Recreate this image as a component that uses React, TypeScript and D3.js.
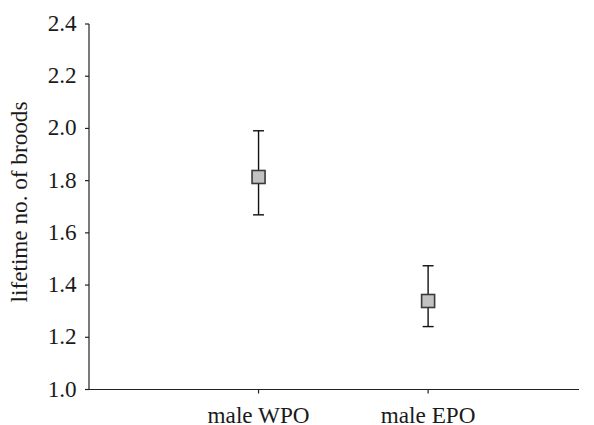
import React from 'react';
import * as d3 from 'd3';

// groups along the x axis
const categories = ['male WPO', 'male EPO'];
// mean lifetime number of broods, with error bar ends
const means = [1.814, 1.339];
const lowers = [1.669, 1.241];
const uppers = [1.991, 1.474];
const yTicks = [1.0, 1.2, 1.4, 1.6, 1.8, 2.0, 2.2, 2.4];

const W = 594;
const H = 425;
const margin = { top: 24, right: 15, bottom: 35.5, left: 89 };
const textStyle = { fontFamily: "'Liberation Serif', 'Times New Roman', serif", fontSize: '23.2px' };

const App = () => {
  const innerW = W - margin.left - margin.right;
  const innerH = H - margin.top - margin.bottom;

  // category i sits at position i + 1 on a linear x scale
  const x = d3.scaleLinear().domain([0, 2.89]).range([0, innerW]);
  const y = d3.scaleLinear().domain([1.0, 2.4]).range([innerH, 0]);

  const box = 13;
  const cap = 5.5;

  return (
    <svg width={W} height={H} style={{ position: 'absolute', left: 0, top: 0, background: '#fff' }}>
      <g transform={`translate(${margin.left},${margin.top})`}>
        {/* y axis */}
        <line x1={0} x2={0} y1={0} y2={innerH} stroke="#222" strokeWidth={1.2} />
        {yTicks.map((t) => (
          <g key={t} transform={`translate(0,${y(t)})`}>
            <line x1={-4} x2={0} stroke="#222" strokeWidth={1.2} />
            <text x={-12.3} y={7} textAnchor="end" style={textStyle} fill="#1a1a1a">
              {d3.format('.1f')(t)}
            </text>
          </g>
        ))}
        {/* x axis */}
        <line x1={-4} x2={innerW} y1={innerH} y2={innerH} stroke="#222" strokeWidth={1.2} />
        {categories.map((c, i) => (
          <g key={c} transform={`translate(${x(i + 1)},${innerH})`}>
            <line y1={0} y2={4} stroke="#222" strokeWidth={1.2} />
            <text y={33.5} textAnchor="middle" style={textStyle} fill="#1a1a1a">
              {c}
            </text>
          </g>
        ))}
        {/* error bars and means */}
        {categories.map((c, i) => {
          const cx = x(i + 1);
          return (
            <g key={`pt-${c}`}>
              <line x1={cx} x2={cx} y1={y(lowers[i])} y2={y(uppers[i])} stroke="#111" strokeWidth={1.4} />
              <line x1={cx - cap} x2={cx + cap} y1={y(lowers[i])} y2={y(lowers[i])} stroke="#111" strokeWidth={1.4} />
              <line x1={cx - cap} x2={cx + cap} y1={y(uppers[i])} y2={y(uppers[i])} stroke="#111" strokeWidth={1.4} />
              <rect
                x={cx - box / 2}
                y={y(means[i]) - box / 2}
                width={box}
                height={box}
                fill="#c2c2c2"
                stroke="#3a3a3a"
                strokeWidth={1.6}
              />
            </g>
          );
        })}
      </g>
      <text
        transform={`translate(26.5,202) rotate(-90)`}
        textAnchor="middle"
        style={textStyle}
        fill="#1a1a1a"
      >
        lifetime no. of broods
      </text>
    </svg>
  );
};

export default App;
